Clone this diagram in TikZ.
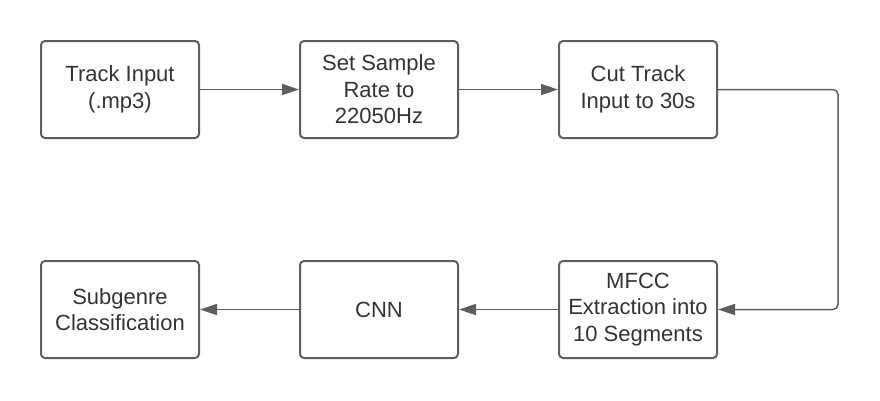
\documentclass[tikz,border=0pt]{standalone}
\usepackage{fontspec}
\setmainfont{Liberation Sans}
\usepackage{xcolor}
\usepackage{tikz}
\usetikzlibrary{arrows.meta, positioning}

\definecolor{edge}{HTML}{5E5E5E}
\definecolor{ink}{HTML}{333333}

\begin{document}
\begin{tikzpicture}[
    >={Triangle[length=17pt, width=11pt]},
    proc/.style={draw=edge, line width=2pt, rounded corners=4pt, minimum width=158pt, minimum height=97pt,
        align=center, text=ink, font=\fontsize{22}{26.5}\selectfont},
    flow/.style={->, draw=edge, line width=1.5pt},
]
    \useasboundingbox (0,0) rectangle (880pt,-400pt);
    \node[proc] (track) at (120pt,-89.5pt) {Track Input\\(.mp3)};
    \node[proc, right=99pt of track] (rate) {Set Sample\\Rate to\\22050Hz};
    \node[proc, right=99pt of rate] (cut) {Cut Track\\Input to 30s};
    \node[proc, below=121pt of cut] (mfcc) {MFCC\\Extraction into\\10 Segments};
    \node[proc, left=99pt of mfcc] (cnn) {CNN};
    \node[proc, left=99pt of cnn] (sub) {Subgenre\\Classification};
    \draw[flow] (track) -- (rate);
    \draw[flow] (rate) -- (cut);
    \draw[flow, rounded corners=5pt] (cut.east) -- ++(120pt,0) |- (mfcc.east);
    \draw[flow] (mfcc) -- (cnn);
    \draw[flow] (cnn) -- (sub);
\end{tikzpicture}
\end{document}
